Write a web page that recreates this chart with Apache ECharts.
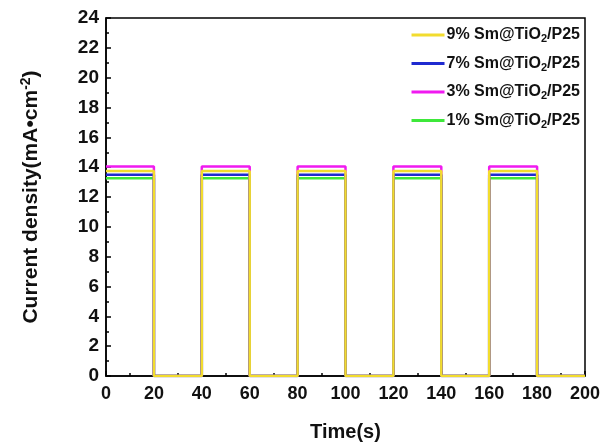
<!DOCTYPE html>
<html>
<head>
<meta charset="utf-8">
<script src="https://cdn.jsdelivr.net/npm/echarts@6/dist/echarts.min.js"></script>
<style>
  html, body { margin: 0; padding: 0; background: #fff; }
  #chart { width: 605px; height: 448px; }
</style>
</head>
<body>
<div id="chart"></div>
<script>
// Light on/off switching: one state per 20 s interval (1 = light on)
const intervalEdges = [0, 20, 40, 60, 80, 100, 120, 140, 160, 180, 200];
const lightState = [1, 0, 1, 0, 1, 0, 1, 0, 1, 0];

// Samples, in drawing order (last drawn on top)
const sampleNames = ['1% Sm@TiO2/P25', '3% Sm@TiO2/P25', '7% Sm@TiO2/P25', '9% Sm@TiO2/P25'];
const legendLabels = ['9% Sm@TiO2/P25', '7% Sm@TiO2/P25', '3% Sm@TiO2/P25', '1% Sm@TiO2/P25'];
// Steady photocurrent plateau (mA·cm^-2) for each sample while illuminated
const plateauLevels = [13.25, 14.05, 13.5, 13.75];
const darkLevel = 0;
const sampleColors = ['#3ee83a', '#f01af0', '#1f2ad0', '#f2dc2e'];

// Tick labels
const yTicks = [0, 2, 4, 6, 8, 10, 12, 14, 16, 18, 20, 22, 24];
const xTicks = [0, 20, 40, 60, 80, 100, 120, 140, 160, 180, 200];

// Square-wave trace built from the on/off states
function trace(level) {
  const pts = [];
  for (let i = 0; i < lightState.length; i++) {
    const v = lightState[i] ? level : darkLevel;
    pts.push([intervalEdges[i], v]);
    pts.push([intervalEdges[i + 1], v]);
  }
  return pts;
}

const FONT = '"Liberation Sans", Arial, sans-serif';

const chart = echarts.init(document.getElementById('chart'));
chart.setOption({
  animation: false,
  backgroundColor: '#fff',
  grid: {
    left: 106, right: 20, top: 18, bottom: 72,
    show: true, borderColor: '#000', borderWidth: 1.5
  },
  legend: {
    data: legendLabels,
    orient: 'vertical',
    right: 20,
    top: 22,
    itemGap: 11,
    itemWidth: 33,
    itemHeight: 3,
    icon: 'rect',
    formatter: function (n) { return n.replace('TiO2', 'TiO{sub|2}'); },
    textStyle: {
      fontFamily: FONT, fontWeight: 'bold', fontSize: 16, color: '#111',
      padding: [0, 0, 0, -3],
      rich: {
        sub: { fontFamily: FONT, fontWeight: 'bold', fontSize: 11, color: '#111', verticalAlign: 'bottom', padding: [8, 0, 0, 0] }
      }
    }
  },
  xAxis: {
    type: 'value',
    min: xTicks[0], max: xTicks[xTicks.length - 1], interval: 20,
    name: 'Time(s)',
    nameLocation: 'middle',
    nameGap: 46,
    nameTextStyle: { fontFamily: FONT, fontWeight: 'bold', fontSize: 20, color: '#111' },
    axisLine: { lineStyle: { color: '#000', width: 1.5 } },
    axisTick: { inside: true, length: 5, lineStyle: { color: '#000', width: 1.5 } },
    minorTick: { show: true, splitNumber: 2, length: 3, lineStyle: { color: '#000', width: 1.5 } },
    axisLabel: { fontFamily: FONT, fontWeight: 'bold', fontSize: 18, color: '#111', margin: 9 },
    splitLine: { show: false }
  },
  yAxis: {
    type: 'value',
    min: yTicks[0], max: yTicks[yTicks.length - 1], interval: 2,
    name: 'Current density(mA•cm{sup|-2})',
    nameLocation: 'middle',
    nameGap: 62,
    nameTextStyle: {
      fontFamily: FONT, fontWeight: 'bold', fontSize: 21, color: '#111',
      rich: { sup: { fontFamily: FONT, fontWeight: 'bold', fontSize: 14, color: '#111', verticalAlign: 'top', padding: [0, 0, 11, 0] } }
    },
    axisLine: { show: true, lineStyle: { color: '#000', width: 1.5 } },
    axisTick: { inside: true, length: 5, lineStyle: { color: '#000', width: 1.5 } },
    minorTick: { show: true, splitNumber: 2, length: 3, lineStyle: { color: '#000', width: 1.5 } },
    axisLabel: { fontFamily: FONT, fontWeight: 'bold', fontSize: 19, color: '#111', margin: 7 },
    splitLine: { show: false }
  },
  series: sampleNames.map(function (name, i) {
    return {
      name: name,
      type: 'line',
      data: trace(plateauLevels[i]),
      symbol: 'none',
      color: sampleColors[i],
      lineStyle: { width: 2.5, color: sampleColors[i] }
    };
  })
});
</script>
</body>
</html>
